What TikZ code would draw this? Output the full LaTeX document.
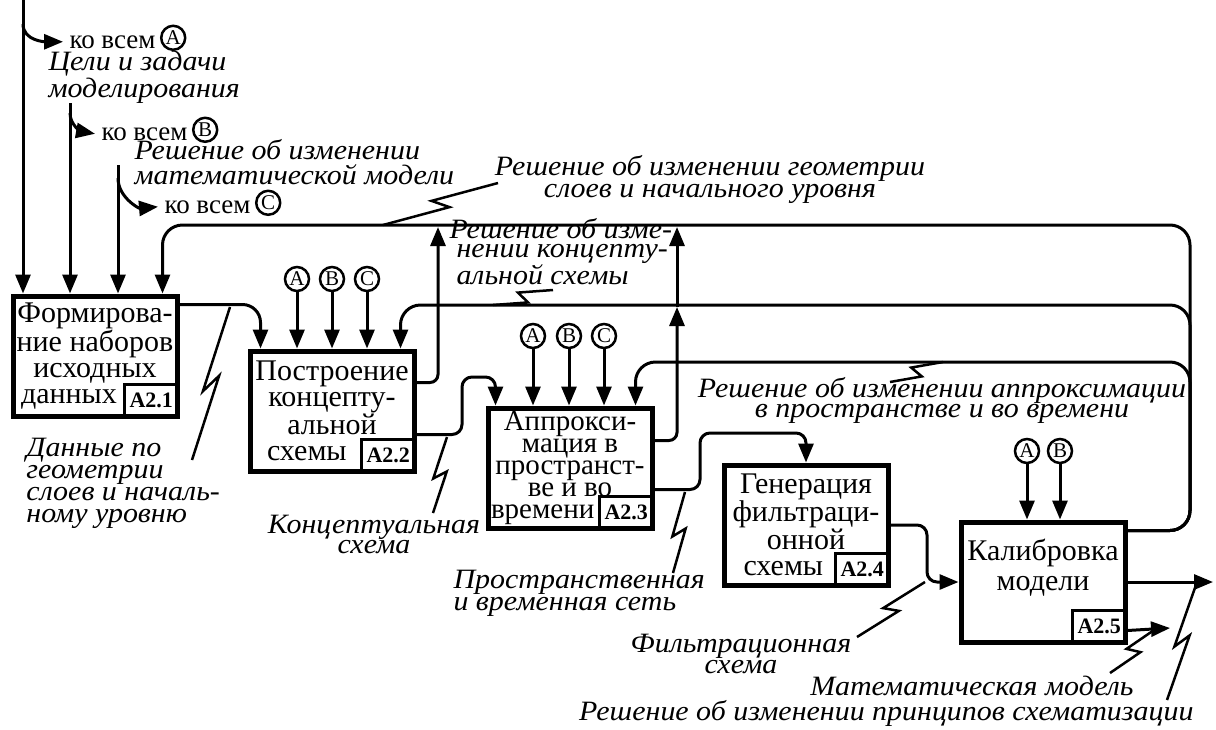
\documentclass[tikz,border=0pt]{standalone}
\usepackage{fontspec}
\setmainfont{Liberation Serif}
\newfontfamily\lblfont{Liberation Serif}[FakeStretch=1.07]
\usetikzlibrary{arrows.meta, positioning, calc}

\begin{document}
\begin{tikzpicture}[
        x=1pt, y=-1pt,
        >={Triangle[length=19pt, width=15pt]},
        line width=3pt,
        blk/.style={rectangle, draw, line width=5pt, minimum width=164pt, minimum height=120pt, inner sep=2pt, align=center, font=\fontsize{30}{26}\selectfont},
        tag/.style={rectangle, draw, line width=2.5pt, minimum width=54pt, minimum height=33pt, inner sep=1pt, anchor=south east, font=\fontsize{22}{22}\selectfont\bfseries},
        ctrl/.style={circle, draw, line width=2.5pt, minimum size=24pt, inner sep=0pt, font=\fontsize{21}{21}\selectfont},
        lbl/.style={inner sep=0pt, font=\fontsize{28}{22}\selectfont\lblfont\itshape},
        kv/.style={inner sep=0pt, font=\fontsize{27}{27}\selectfont},
        line/.style={->, line width=3pt, rounded corners=15pt},
        sq/.style={line width=2.5pt, to path={-- ($($(\tikztostart)!0.56!(\tikztotarget)$)!6pt!-90:(\tikztotarget)$) -- ($($(\tikztostart)!0.44!(\tikztotarget)$)!6pt!90:(\tikztotarget)$) -- (\tikztotarget)}}
    ]
    \useasboundingbox (0,0) rectangle (1216,729);

    % ================= БЛОКИ =================
    \node[blk] (form) at (95,356) {Формирова-\\ние наборов\\исходных\\\makebox[148pt][l]{данных}};
    \node[blk] (concept) at (332,411) {Построение\\концепту-\\альной\\\makebox[130pt][l]{схемы}};
    \node[blk, font=\fontsize{29}{22}\selectfont] (approx) at (570,468) {Аппрокси-\\мация в\\пространст-\\ве и во\\\makebox[158pt][l]{времени}};
    \node[blk] (gen) at (806,525) {Генерация\\фильтраци-\\онной\\\makebox[125pt][l]{схемы}};
    \node[blk, font=\fontsize{30}{30}\selectfont] (calib) at (1043,582) {Калибровка\\модели\rule[-35pt]{0pt}{35pt}};

    % Номера блоков
    \node[tag] (t1) at (form.south east) {A2.1};
    \node[tag] (t2) at (concept.south east) {A2.2};
    \node[tag] (t3) at (approx.south east) {A2.3};
    \node[tag] (t4) at (gen.south east) {A2.4};
    \node[tag] (t5) at (calib.south east) {A2.5};

    % Управления (ко всем)
    \node[ctrl] (a2) at (297,279) {A};
    \node[ctrl] (b2) at (332,279) {B};
    \node[ctrl] (c2) at (367,279) {C};
    \node[ctrl] (a3) at (533,336) {A};
    \node[ctrl] (b3) at (569,336) {B};
    \node[ctrl] (c3) at (604,336) {C};
    \node[ctrl] (a5) at (1027,451) {A};
    \node[ctrl] (b5) at (1060,451) {B};

    \node[kv, anchor=base west] (kva) at (68,48) {ко всем};
    \node[ctrl, right=3pt of kva, yshift=4pt] (ka) {A};
    \node[kv, anchor=base west] (kvb) at (100,140) {ко всем};
    \node[ctrl, right=3pt of kvb, yshift=4pt] (kb) {B};
    \node[kv, anchor=base west] (kvc) at (163,213) {ко всем};
    \node[ctrl, right=3pt of kvc, yshift=4pt] (kc) {C};

    % ================= ПОДПИСИ =================
    % (base многострочной подписи -- последняя строка)
    \node[lbl, anchor=base west, align=left] (goals) at (47,97) {Цели и задачи\\моделирования};
    \node[lbl, anchor=base west, align=left, font=\fontsize{28}{25}\selectfont\lblfont\itshape] (mathm) at (133,184) {Решение об изменении\\математической модели};
    \node[lbl, anchor=base, align=center] (geom) at (710,197) {Решение об изменении геометрии\\слоев и начального уровня};
    \node[lbl, anchor=base west, align=left, font=\fontsize{28}{18.5}\selectfont\lblfont\itshape] (cschg) at (448,284) {Решение об изме-\\\hspace*{7pt}нении концепту-\\\hspace*{7pt}альной схемы};
    \node[lbl, anchor=base, align=center, font=\fontsize{28}{20}\selectfont\lblfont\itshape] (aprchg) at (942,417) {Решение об изменении аппроксимации\\в пространстве и во времени};
    \node[lbl, anchor=base west, align=left, font=\fontsize{28}{21.7}\selectfont\lblfont\itshape] (dat) at (25,522) {Данные по\\геометрии\\слоев и началь-\\ному уровню};
    \node[lbl, anchor=base, align=center, font=\fontsize{28}{20}\selectfont\lblfont\itshape] (cs) at (374,553) {Концептуальная\\схема};
    \node[lbl, anchor=base west, align=left] (net) at (452,610) {Пространственная\\и временная сеть};
    \node[lbl, anchor=base, align=center, font=\fontsize{28}{18}\selectfont\lblfont\itshape] (filt) at (741,673) {Фильтрационная\\схема};
    \node[lbl, anchor=base] (mm) at (972,695) {Математическая модель};
    \node[lbl, anchor=base east] (princ) at (1195,720) {Решение об изменении принципов схематизации};

    % Точки на линиях
    \coordinate (in1) at (23,0);
    \coordinate (in2) at (70,103);
    \coordinate (in3) at (118,165);
    \coordinate (sa) at (23,24);
    \coordinate (sb) at (70,113);
    \coordinate (sc) at (118,178);
    \coordinate (j1) at (438,227);
    \coordinate (j2) at (677,227);
    \coordinate (j3) at (677,307);
    \coordinate (o1) at (1213,582);
    \coordinate (o2) at (1170,628);

    \coordinate (q1a) at (192,460);  \coordinate (q1b) at (230,307);
    \coordinate (q2a) at (498,183);  \coordinate (q2b) at (383,225);
    \coordinate (q3a) at (553,290);  \coordinate (q3b) at (493,305);
    \coordinate (q4a) at (890,382);  \coordinate (q4b) at (943,362);
    \coordinate (q5a) at (433,513);  \coordinate (q5b) at (447,437);
    \coordinate (q6a) at (673,573);  \coordinate (q6b) at (685,492);
    \coordinate (q7a) at (857,637);  \coordinate (q7b) at (925,582);
    \coordinate (q8a) at (1110,673); \coordinate (q8b) at (1157,628);
    \coordinate (q9a) at (1167,700); \coordinate (q9b) at (1197,582);

    % ================= СТРЕЛКИ =================

    % Входы сверху
    \draw[line] (in1) -- (in1 |- form.north);
    \draw[line] (in2) -- (in2 |- form.north);
    \draw[line] (in3) -- (in3 |- form.north);
    \draw[line] (sa) to[out=-90, in=180] ([xshift=-5pt]kva.west);
    \draw[line] (sb) to[out=-90, in=170] ([xshift=-5pt]kvb.west);
    \draw[line] (sc) to[out=-90, in=185] ([xshift=-5pt]kvc.west);

    % Управления к блокам
    \draw[line] (a2) -- (a2 |- concept.north);
    \draw[line] (b2) -- (b2 |- concept.north);
    \draw[line] (c2) -- (c2 |- concept.north);
    \draw[line] (a3) -- (a3 |- approx.north);
    \draw[line] (b3) -- (b3 |- approx.north);
    \draw[line] (c3) -- (c3 |- approx.north);
    \draw[line] (a5) -- (a5 |- calib.north);
    \draw[line] (b5) -- (b5 |- calib.north);

    % Прямые связи
    \draw[line, rounded corners=18pt] ([yshift=-11pt]form.north east) -| ([xshift=13pt]concept.north west);
    \draw[line, rounded corners=10pt] ([yshift=-86pt]concept.north east) -| (462,377) -| ([xshift=10pt]approx.north west);
    \draw[line, rounded corners=10pt] ([yshift=-84pt]approx.north east) -| (700,433) -| (gen.north);
    \draw[line, rounded corners=10pt] (gen.east) -| (927,582) -- (calib.west);
    \draw[line] (calib.east) -- (o1);
    \draw[line] ([yshift=14pt]calib.south east) -- (o2);

    % Обратные связи
    \draw[line, rounded corners=8pt] ([yshift=-34pt]concept.north east) -| (j1);
    \draw[line, rounded corners=8pt] ([yshift=-35pt]approx.north east) -| (j3);
    \draw[line] (j3) -- (j2);
    \draw[line, rounded corners=20pt] ([yshift=-11pt]calib.north east) -| (1190,225) -| ([xshift=152pt]form.north west);
    \draw[line, rounded corners=20pt] ([yshift=-11pt]calib.north east) -| (1190,305) -| ([xshift=153pt]concept.north west);
    \draw[line, rounded corners=20pt] ([yshift=-11pt]calib.north east) -| (1190,362) -| ([xshift=150pt]approx.north west);

    % Молнии к подписям
    \draw[sq] (q1a) to (q1b);
    \draw[sq] (q2a) to (q2b);
    \draw[sq] (q3a) to (q3b);
    \draw[sq] (q4a) to (q4b);
    \draw[sq] (q5a) to (q5b);
    \draw[sq] (q6a) to (q6b);
    \draw[sq] (q7a) to (q7b);
    \draw[sq] (q8a) to (q8b);
    \draw[sq] (q9a) to (q9b);

\end{tikzpicture}
\end{document}
